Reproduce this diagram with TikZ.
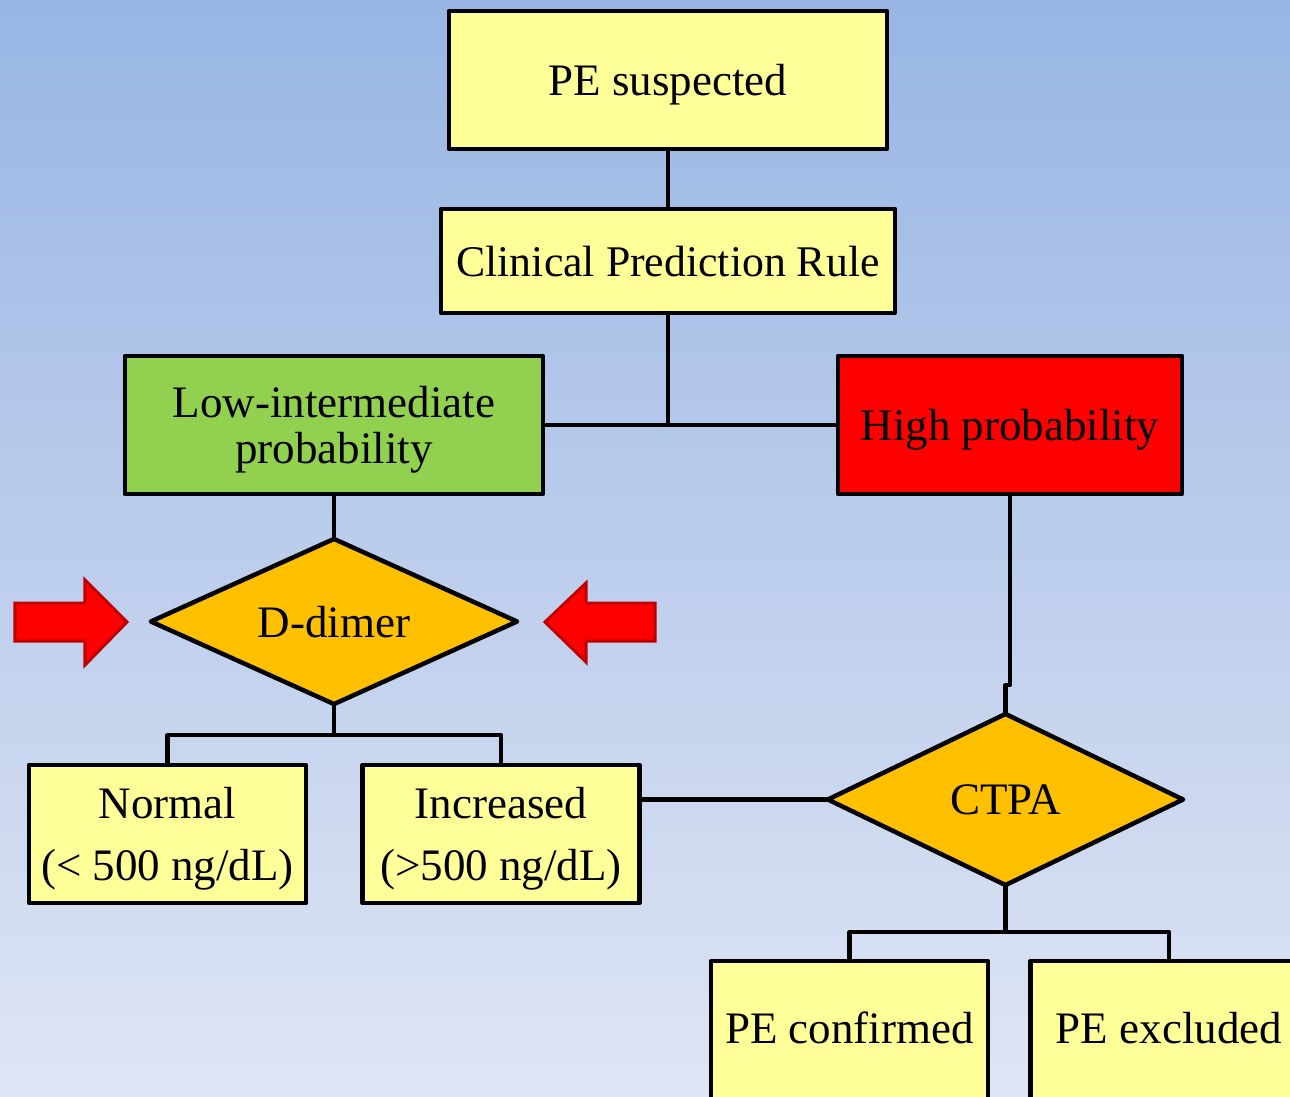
\documentclass[tikz,border=0pt]{standalone}
\usepackage{fontspec}
\setmainfont{Liberation Serif}
\usetikzlibrary{shapes.geometric}
\definecolor{boxyellow}{HTML}{FFFF99}
\definecolor{boxgreen}{HTML}{92D050}
\definecolor{boxred}{HTML}{FF0000}
\definecolor{diaorange}{HTML}{FFC000}
\definecolor{arrowedge}{HTML}{C00000}
\definecolor{bgtop}{RGB}{152,181,228}
\definecolor{bgbot}{RGB}{223,229,244}
\begin{document}
\begin{tikzpicture}[x=0.01cm,y=-0.01cm,
  base/.style={draw=black, line width=0.045cm, inner sep=0pt, outer sep=0pt,
    align=center, font=\fontsize{12.8pt}{13.1pt}\selectfont, line join=round, text depth=0pt},
  ybox/.style={base, rectangle, fill=boxyellow},
  twoline/.style={font=\fontsize{12.8pt}{17.6pt}\selectfont},
  dia/.style={base, diamond, aspect=2.2, fill=diaorange},
  conn/.style={draw=black, line width=0.042cm, line join=round},
  redarrow/.style={fill=boxred, draw=arrowedge, line width=0.03cm, line join=miter}
]
\useasboundingbox (0,0) rectangle (1290,1096);
\clip (0,0) rectangle (1290,1096);
\shade[top color=bgtop, bottom color=bgbot] (0,0) rectangle (1290,1096);

% nodes
\node[ybox, minimum width=4.38cm, minimum height=1.38cm] (suspect) at (668,80) {PE suspected};
\node[ybox, minimum width=4.54cm, minimum height=1.04cm, font=\fontsize{12.45pt}{13.1pt}\selectfont] (cpr) at (668,261) {Clinical Prediction Rule};
\node[base, rectangle, fill=boxgreen, minimum width=4.18cm, minimum height=1.38cm] (low) at (334,425) {Low-intermediate\\probability};
\node[base, rectangle, fill=boxred, minimum width=3.44cm, minimum height=1.38cm] (high) at (1010,425) {High probability};
\node[dia, minimum width=3.66cm, minimum height=1.65cm] (dimer) at (334,621.5) {D-dimer};
\node[ybox, twoline, minimum width=2.77cm, minimum height=1.38cm] (normal) at (167.5,834) {Normal\\(< 500 ng/dL)};
\node[ybox, twoline, minimum width=2.77cm, minimum height=1.38cm] (incr) at (501,834) {Increased\\(>500 ng/dL)};
\node[dia, minimum width=3.55cm, minimum height=1.71cm] (ctpa) at (1005.5,799.5) {CTPA};
\node[ybox, anchor=north, minimum width=2.77cm, text height=0.82cm, text depth=1.2cm] (conf) at (849.5,961) {PE confirmed};
\node[ybox, anchor=north, minimum width=2.77cm, text height=0.82cm, text depth=1.2cm] (excl) at (1169,961) {PE excluded};

% red arrows pointing at D-dimer
\draw[redarrow] (15,603) -- (85,603) -- (85,580) -- (127,622) -- (85,665) -- (85,641) -- (15,641) -- cycle;
\draw[redarrow] (655,603) -- (586,603) -- (586,583) -- (545,622) -- (586,662) -- (586,641) -- (655,641) -- cycle;

% split points
\coordinate (dsplit) at (334,735);
\coordinate (jog) at (0,685);
\coordinate (csplit) at (1004,932);

% connectors
\draw[conn] (suspect.south) -- (cpr.north);
\draw[conn] (cpr.south) -- (cpr.south |- low.east);
\draw[conn] (low.east) -- (high.west);
\draw[conn] (low.south) -- (dimer.north);
\draw[conn] (dimer.south) -- (dsplit);
\draw[conn] (normal.north) -- (normal.north |- dsplit) -- (incr.north |- dsplit) -- (incr.north);
\draw[conn] (incr.east |- ctpa.west) -- (ctpa.west);
\draw[conn] (high.south) -- (high.south |- jog) -- (ctpa.north |- jog) -- (ctpa.north);
\draw[conn] (ctpa.south) -- (ctpa.south |- csplit);
\draw[conn] (conf.north) -- (conf.north |- csplit) -- (excl.north |- csplit) -- (excl.north);
\end{tikzpicture}
\end{document}
